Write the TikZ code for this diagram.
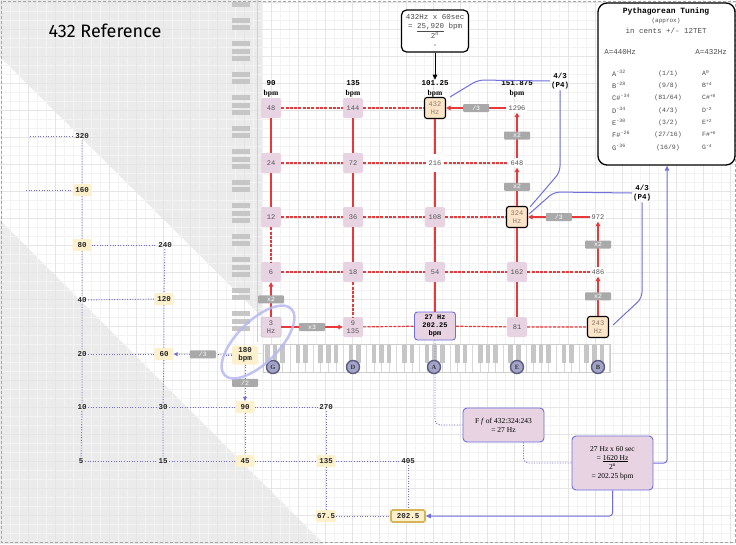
\documentclass[tikz,border=0pt]{standalone}
\usepackage{fontspec}
\setmainfont{Liberation Serif}
\setmonofont{Liberation Mono}
\newfontfamily\titlefont{Fira Sans}
\usetikzlibrary{arrows.meta,calc}
\definecolor{pinkbox}{HTML}{E7D3E1}
\definecolor{peach}{HTML}{FCE4C8}
\definecolor{yel}{HTML}{FDF0CC}
\definecolor{gold}{HTML}{D8B458}
\definecolor{redl}{HTML}{E8383A}
\definecolor{bluel}{HTML}{6F6FDD}
\definecolor{labgray}{HTML}{A9A9A9}
\definecolor{gridmaj}{HTML}{E5E5E5}
\definecolor{gridmin}{HTML}{F3F3F3}
\definecolor{bggray}{HTML}{EBEBEB}
\definecolor{keyg}{HTML}{C6C6C6}
\definecolor{numgray}{HTML}{555555}
\definecolor{hztext}{HTML}{8A7A6A}
\definecolor{notefill}{HTML}{A4A4C8}
\definecolor{noteedge}{HTML}{5C5C80}
\definecolor{ellc}{HTML}{B8B8F2}
\tikzset{
 pbox/.style={fill=pinkbox, rounded corners=2pt, minimum width=20pt, minimum height=20pt, inner sep=0.5pt, align=center, text=numgray, font=\ttfamily\fontsize{7}{8}\selectfont},
 hbox/.style={fill=peach, draw=black, line width=1.1pt, rounded corners=2.5pt, minimum width=21pt, minimum height=21pt, inner sep=0.5pt, align=center, text=hztext, font=\ttfamily\fontsize{7}{8}\selectfont},
 plainn/.style={fill=white, inner sep=2pt, text=numgray, font=\ttfamily\fontsize{7}{8}\selectfont},
 bigbox/.style={fill=pinkbox, draw=bluel, line width=0.9pt, rounded corners=3pt, minimum width=41pt, minimum height=28pt, inner sep=0.5pt, align=center, font=\ttfamily\bfseries\fontsize{7}{7.8}\selectfont},
 lab/.style={fill=labgray, text=white, rounded corners=0.8pt, minimum width=26pt, minimum height=8pt, inner sep=0pt, font=\ttfamily\fontsize{6.5}{6.5}\selectfont},
 rsolid/.style={draw=redl, line width=1.2pt},
 rdash/.style={draw=redl, line width=1.2pt, dash pattern=on 3pt off 1.3pt},
 rarr/.style={rsolid, -{Triangle[length=4.5pt,width=4.5pt]}},
 bdot/.style={draw=bluel, line width=0.9pt, dash pattern=on 1pt off 1.6pt},
 barr/.style={bdot, -{Triangle[length=4pt,width=4pt]}},
 bline/.style={draw=bluel, line width=1pt},
 ybox/.style={fill=yel, rounded corners=1.5pt, minimum width=19pt, minimum height=12pt, inner sep=1pt, align=center, text=black!85, font=\ttfamily\bfseries\fontsize{7.5}{8.5}\selectfont},
 bnum/.style={inner sep=1.5pt, text=black!85, font=\ttfamily\bfseries\fontsize{7.5}{8.5}\selectfont},
 hdr/.style={align=center, inner sep=1pt, font=\bfseries\fontsize{7.5}{9.5}\selectfont},
 notec/.style={circle, fill=notefill, draw=noteedge, line width=1.4pt, minimum size=13pt, inner sep=0pt, text=black!80, font=\bfseries\fontsize{6.5}{7}\selectfont},
 pyt/.style={inner sep=0pt, text=black!70, font=\ttfamily\fontsize{7}{8}\selectfont},
 pym/.style={inner sep=0pt, text=black!70, font=\ttfamily\fontsize{6.5}{7.5}\selectfont},
 sbox/.style={fill=pinkbox, draw=bluel, line width=0.9pt, rounded corners=4pt, align=center, inner sep=2pt, font=\fontsize{7.5}{9}\selectfont},
}
\begin{document}
\begin{tikzpicture}[x=1pt,y=-1pt]
\useasboundingbox (0,0) rectangle (736,544);
% background
\fill[white] (0,0) rectangle (736,544);
\fill[bggray] (0,0) -- (262,0) -- (262,317) -- (0,57) -- cycle;
\fill[bggray] (0,220) -- (324,544) -- (0,544) -- cycle;
\foreach \i in {0,...,81} \draw[gridmin, line width=0.4pt] ({1+9*\i},0) -- ({1+9*\i},544);
\foreach \i in {0,...,60} \draw[gridmin, line width=0.4pt] (0,{2+9*\i}) -- (736,{2+9*\i});
\foreach \i in {0,...,27} \draw[gridmaj, line width=0.5pt] ({1+27*\i},0) -- ({1+27*\i},544);
\foreach \i in {0,...,20} \draw[gridmaj, line width=0.5pt] (0,{2+27*\i}) -- (736,{2+27*\i});
\draw[black!35, dash pattern=on 3pt off 2pt, line width=0.8pt] (1,1) rectangle (735,542);
% vertical keyboard
\begin{scope}
\clip (228,0) rectangle (258,340);
\foreach \k in {-1,...,6} \foreach \o in {0,7,23,31,38} \fill[keyg] (232,{17.5+54*\k+\o}) rectangle (250,{22.5+54*\k+\o});
\end{scope}
\draw[black!18] (257,0) -- (257,342);
% horizontal piano
\fill[white] (263,344) rectangle (610,372);
\begin{scope}
\clip (263,344) rectangle (610,372);
\foreach \k in {0,...,7} {
  \foreach \j in {0,...,6} \draw[black!15, line width=0.4pt] ({237+53.2*\k+7.6*\j},344) -- ++(0,28);
  \foreach \j in {1,2,4,5,6} \fill[keyg] ({237+53.2*\k+7.6*\j-2.3},344) rectangle ++(4.6,19);
}
\end{scope}
\draw[black!20, line width=0.4pt] (263,344) rectangle (610,372);
% title
\node[font=\titlefont\fontsize{18}{21}\selectfont] (title) at (105,31) {432 Reference};
% top box
\node[draw, line width=1.2pt, rounded corners=5pt, fill=white, minimum width=67pt, minimum height=42pt, align=center, inner sep=1pt, text=black!70, font=\ttfamily\fontsize{7.5}{9.5}\selectfont] (topbox) at (435,31) {432Hz x 60sec\\= \underline{25,920} bpm\\2\textsuperscript{n}\\-};
% headers
\node[hdr] (h1) at (271,89) {{\ttfamily 90}\\bpm};
\node[hdr] (h2) at (353,89) {{\ttfamily 135}\\bpm};
\node[hdr] (h3) at (435,89) {{\ttfamily 101.25}\\bpm};
\node[hdr] (h4) at (517,89) {{\ttfamily 151.875}\\bpm};
\draw[line width=1pt, -{Triangle[length=5pt,width=4.5pt]}] (topbox) -- (h3);
% grid nodes
\node[pbox] (n48) at (271,108) {48};
\node[pbox] (n144) at (353,108) {144};
\node[hbox] (n432) at (435,108) {432\\Hz};
\node[plainn] (n1296) at (517,108) {1296};
\node[pbox] (n24) at (271,163) {24};
\node[pbox] (n72) at (353,163) {72};
\node[plainn, minimum size=18pt] (n216) at (435,163) {216};
\node[plainn] (n648) at (517,163) {648};
\node[pbox] (n12) at (271,217) {12};
\node[pbox] (n36) at (353,217) {36};
\node[pbox] (n108) at (435,217) {108};
\node[hbox] (n324) at (517,217) {324\\Hz};
\node[plainn] (n972) at (598,217) {972};
\node[pbox] (n6) at (271,272) {6};
\node[pbox] (n18) at (353,272) {18};
\node[pbox] (n54) at (435,272) {54};
\node[pbox] (n162) at (517,272) {162};
\node[plainn] (n486) at (598,272) {486};
\node[pbox, draw=black!25, line width=0.5pt] (n3) at (271,327) {3\\Hz};
\node[pbox] (n9) at (353,327) {9\\135};
\node[bigbox] (n27) at (435,326) {27 Hz\\202.25\\bpm};
\node[pbox] (n81) at (517,327) {81};
\node[hbox] (n243) at (598,327) {243\\Hz};
% red connectors
\draw[rdash] (n48) -- (n144) -- (n432);
\draw[rarr] (n1296) -- node[lab] {/3} (n432);
\draw[rdash] (n24) -- (n72) -- (n216) -- (n648);
\draw[rdash] (n12) -- (n36) -- (n108) -- (n324);
\draw[rarr] (n972) -- node[lab] {/3} (n324);
\draw[rdash] (n6) -- (n18) -- (n54) -- (n162) -- (n486);
\draw[rarr] (n3) -- node[lab] {x3} (n9);
\draw[rdash] (n9) -- (n27) -- (n81) -- (n243);
\draw[rsolid] (n48) -- (n24) -- (n12);
\draw[rdash] (n12) -- (n6);
\draw[rarr] (n3) -- node[lab] {x2} (n6);
\draw[rsolid] (n144) -- (n72) -- (n36) -- (n18);
\draw[rdash] (n18) -- (n9);
\draw[rsolid] (n432) -- (n216) -- (n108) -- (n54) -- (n27);
\draw[rarr] (n648) -- node[lab] {x2} (n1296);
\draw[rarr] (n324) -- node[lab] {x2} (n648);
\draw[rsolid] (n324) -- (n162) -- (n81);
\draw[rarr] (n486) -- node[lab] {x2} (n972);
\draw[rarr] (n243) -- node[lab] {x2} (n486);
% P4 labels
\node[hdr, font=\ttfamily\bfseries\fontsize{7.5}{9.5}\selectfont] (p1) at (560,81) {4/3\\(P4)};
\node[hdr, font=\ttfamily\bfseries\fontsize{7.5}{9.5}\selectfont] (p2) at (642,193) {4/3\\(P4)};
% Pythagorean box
\node[draw, line width=1.3pt, rounded corners=9pt, fill=white, minimum width=137pt, minimum height=162pt] (pyth) at (666.5,84) {};
\node[pyt, text=black, font=\ttfamily\bfseries\fontsize{8}{9}\selectfont] (pt1) at (666,11) {Pythagorean Tuning};
\node[pyt, font=\ttfamily\fontsize{6}{7}\selectfont] (pt2) at (666,21) {(approx)};
\node[pyt, font=\ttfamily\fontsize{7.5}{8.5}\selectfont] (pt3) at (666,31) {in cents +/- 12TET};
\node[pyt, font=\ttfamily\fontsize{7.5}{8.5}\selectfont] (pt4) at (620,52) {A=440Hz};
\node[pyt, font=\ttfamily\fontsize{7.5}{8.5}\selectfont] (pt5) at (711,52) {A=432Hz};
\node[pyt, anchor=west] (l1) at (612,73) {A\textsuperscript{-32}};
\node[pyt, anchor=west] (l2) at (612,85) {B\textsuperscript{-28}};
\node[pyt, anchor=west] (l3) at (612,97) {C\#\textsuperscript{-34}};
\node[pyt, anchor=west] (l4) at (612,110) {D\textsuperscript{-34}};
\node[pyt, anchor=west] (l5) at (612,122) {E\textsuperscript{-30}};
\node[pyt, anchor=west] (l6) at (612,134) {F\#\textsuperscript{-26}};
\node[pyt, anchor=west] (l7) at (612,147) {G\textsuperscript{-36}};
\node[pym] (m1) at (668,74) {(1/1)};
\node[pym] (m2) at (668,86) {(9/8)};
\node[pym] (m3) at (668,98) {(81/64)};
\node[pym] (m4) at (668,111) {(4/3)};
\node[pym] (m5) at (668,123) {(3/2)};
\node[pym] (m6) at (668,135) {(27/16)};
\node[pym] (m7) at (668,148) {(16/9)};
\node[pym, anchor=west] (r1) at (702,73) {A\textsuperscript{0}};
\node[pym, anchor=west] (r2) at (702,85) {B\textsuperscript{+4}};
\node[pym, anchor=west] (r3) at (702,97) {C\#\textsuperscript{+8}};
\node[pym, anchor=west] (r4) at (702,110) {D\textsuperscript{-2}};
\node[pym, anchor=west] (r5) at (702,122) {E\textsuperscript{+2}};
\node[pym, anchor=west] (r6) at (702,134) {F\#\textsuperscript{+6}};
\node[pym, anchor=west] (r7) at (702,147) {G\textsuperscript{-4}};
% lower boxes
\node[sbox, minimum width=81pt, minimum height=34pt] (fbox) at (503.5,425) {F \textit{f} of 432:324:243\\= 27 Hz};
\node[sbox, minimum width=81pt, minimum height=54pt] (box2) at (612.5,463) {27 Hz x 60 sec\\= \underline{1620 Hz}\\2\textsuperscript{n}\\= 202.25 bpm};
% left network nodes
\coordinate (s320) at (30,136);
\coordinate (s160) at (26,190);
\node[bnum] (a320) at (82,136) {320};
\node[ybox] (a160) at (82,190) {160};
\node[ybox] (a80) at (82,245) {80};
\node[bnum] (a240) at (165,245) {240};
\node[bnum] (a40) at (82,300) {40};
\node[ybox] (a120) at (164,299) {120};
\node[bnum] (a20) at (82,354) {20};
\node[ybox] (a60) at (164,354) {60};
\node[ybox, minimum width=26pt, minimum height=19pt, font=\ttfamily\bfseries\fontsize{7.5}{8.5}\selectfont] (a180) at (245,355) {180\\bpm};
\node[bnum] (a10) at (82,407) {10};
\node[bnum] (a30) at (163,407) {30};
\node[ybox] (a90) at (245,407) {90};
\node[bnum] (a270) at (326,407) {270};
\node[bnum] (a5) at (81,461) {5};
\node[bnum] (a15) at (163,461) {15};
\node[ybox] (a45) at (245,461) {45};
\node[ybox] (a135) at (326,461) {135};
\node[bnum] (a405) at (408,461) {405};
\node[ybox] (a675) at (326,516) {67.5};
\node[ybox, draw=gold, line width=1.6pt, minimum width=34pt] (a2025) at (408,516) {202.5};
% left network edges
\draw[bdot] (s320) -- (a320);
\draw[bdot] (s160) -- (a160);
\draw[bdot] (a320) -- (a160) -- (a80) -- (a40) -- (a20) -- (a10) -- (a5);
\draw[bdot] (a80) -- (a240);
\draw[bdot] (a240) -- (a120) -- (a60) -- (a30) -- (a15);
\draw[bdot] (a40) -- (a120);
\draw[bdot] (a20) -- (a60);
\draw[barr] (a180) -- node[lab] {/3} (a60);
\draw[barr] (a180) -- node[lab] {/2} (a90);
\draw[bdot] (a10) -- (a30) -- (a90) -- (a270);
\draw[bdot] (a5) -- (a15) -- (a45) -- (a135) -- (a405);
\draw[bdot] (a90) -- (a45);
\draw[bdot] (a270) -- (a135) -- (a675);
\draw[bdot] (a405) -- (a2025);
\draw[bdot] (a675) -- (a2025);
\draw[bdot] (a180.west) -- ++(-10,0);
% blue connectors
\draw[bline, rounded corners=6pt] ($(n432.north east)+(4,0)$) -- (478,80) -- (p1.west);
\draw[bline, rounded corners=6pt] (p1.south) -- (560,172) -- ($(n324.north east)+(2,1)$);
\draw[bline, rounded corners=6pt] ($(n324.east)+(1,-3)$) -- (554,192) -- (p2.west);
\draw[bline, rounded corners=6pt] (p2.south) -- (642,298) -- ($(n243.east)+(4,-2)$);
\draw[bline, rounded corners=3pt, -{Triangle[length=5pt,width=4.5pt]}] (box2.east) -- (667,463) -- (pyth.south -| 667,0);
\draw[bdot, rounded corners=5pt] (n27.south) |- (fbox.west);
\draw[bdot, rounded corners=5pt] ($(fbox.south)+(20,0)$) |- (box2.west);
\draw[bline, rounded corners=3pt, -{Triangle[length=5pt,width=4.5pt]}] (box2.south) |- (a2025.east);
% note circles
\node[notec] (cG) at (273,367) {G};
\node[notec] (cD) at (353,367) {D};
\node[notec] (cA) at (434,367) {A};
\node[notec] (cE) at (517,367) {E};
\node[notec] (cB) at (598,367) {B};
% ellipse: major axis runs from lower left to upper right
\draw[ellc, line width=2.5pt, opacity=0.85] plot[domain=0:350, samples=36, smooth cycle] ({258+47*cos(\x)*0.7071+21*sin(\x)*0.7071}, {342-47*cos(\x)*0.7071+21*sin(\x)*0.7071});
\end{tikzpicture}
\end{document}
